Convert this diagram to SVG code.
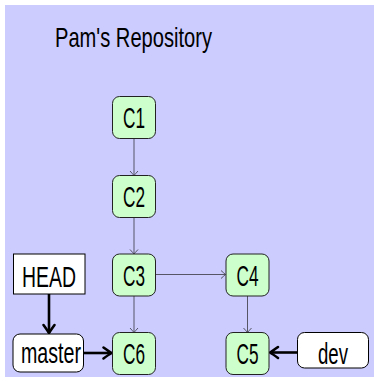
<svg xmlns="http://www.w3.org/2000/svg" width="374" height="382" viewBox="0 0 374 382">
<style>
.lbl{font-family:"Liberation Sans",Arial,sans-serif;font-size:30px;fill:#000;text-anchor:middle}
.commit{fill:#ccffcc;stroke:#222;stroke-width:1}
.ref{fill:#fff;stroke:#000;stroke-width:1}
.edge{stroke:#555566;stroke-width:1;fill:none}
.thick{stroke:#000;stroke-width:2.6;fill:none}
</style>
<defs>
<marker id="to" markerUnits="userSpaceOnUse" markerWidth="12" markerHeight="12" viewBox="-6 -6 12 12" refX="0" refY="0" orient="auto" overflow="visible">
<path d="M-4.5,-4 Q-1.2,-1 0,0 Q-1.2,1 -4.5,4" fill="none" stroke="#555566" stroke-width="1"/>
</marker>
<marker id="big" markerUnits="userSpaceOnUse" markerWidth="16" markerHeight="16" viewBox="-10 -8 16 16" refX="0" refY="0" orient="auto" overflow="visible">
<path d="M-8,-5.5 Q-2.5,-1.5 0,0 Q-2.5,1.5 -8,5.5" fill="none" stroke="#000" stroke-width="2.6" stroke-linecap="round"/>
</marker>
</defs>
<rect x="5" y="5" width="369" height="372" fill="#ccccff"/>
<text x="55" y="47" font-family="Liberation Sans,Arial,sans-serif" font-size="28.5" textLength="157" lengthAdjust="spacingAndGlyphs">Pam's Repository</text>
<g id="connectors">
<line class="edge" x1="134" y1="138.5" x2="134" y2="175.5" marker-end="url(#to)"/>
<line class="edge" x1="134" y1="217.5" x2="134" y2="254" marker-end="url(#to)"/>
<line class="edge" x1="134" y1="296" x2="134" y2="332.5" marker-end="url(#to)"/>
<line class="edge" x1="155" y1="274.5" x2="225.5" y2="274.5" marker-end="url(#to)"/>
<line class="edge" x1="247.5" y1="295.5" x2="247.5" y2="332.5" marker-end="url(#to)"/>
<line class="thick" x1="49" y1="294" x2="49" y2="333" marker-end="url(#big)"/>
<line class="thick" x1="83.5" y1="353" x2="111.5" y2="353" marker-end="url(#big)"/>
<line class="thick" x1="297" y1="352.5" x2="270" y2="352.5" marker-end="url(#big)"/>
</g>
<g id="C1"><rect class="commit" x="112.5" y="96.5" width="43" height="42" rx="7"/><text class="lbl" x="134" y="127.5" textLength="22" lengthAdjust="spacingAndGlyphs">C1</text></g>
<g id="C2"><rect class="commit" x="112.5" y="175.5" width="43" height="42" rx="7"/><text class="lbl" x="134" y="206.5" textLength="22" lengthAdjust="spacingAndGlyphs">C2</text></g>
<g id="C3"><rect class="commit" x="112.5" y="254" width="43" height="42" rx="7"/><text class="lbl" x="134" y="285.5" textLength="22" lengthAdjust="spacingAndGlyphs">C3</text></g>
<g id="C6"><rect class="commit" x="112.5" y="332.5" width="43" height="42" rx="7"/><text class="lbl" x="134" y="364" textLength="22" lengthAdjust="spacingAndGlyphs">C6</text></g>
<g id="C4"><rect class="commit" x="226" y="254" width="43" height="42" rx="7"/><text class="lbl" x="247.5" y="285.5" textLength="22" lengthAdjust="spacingAndGlyphs">C4</text></g>
<g id="C5"><rect class="commit" x="226" y="332.5" width="43" height="42" rx="7"/><text class="lbl" x="247.5" y="364" textLength="22" lengthAdjust="spacingAndGlyphs">C5</text></g>
<g id="HEAD"><rect class="ref" x="13.5" y="254" width="71.5" height="40"/><text class="lbl" x="49" y="286.5" textLength="54" lengthAdjust="spacingAndGlyphs">HEAD</text></g>
<g id="master"><rect class="ref" x="13" y="334" width="70.5" height="38" rx="7"/><text class="lbl" x="51" y="362.5" font-size="26" textLength="60" lengthAdjust="spacingAndGlyphs">master</text></g>
<g id="dev"><rect class="ref" x="297.5" y="332.5" width="71" height="35.5" rx="7"/><text class="lbl" x="333" y="363.5" font-size="26" textLength="30" lengthAdjust="spacingAndGlyphs">dev</text></g>
</svg>
